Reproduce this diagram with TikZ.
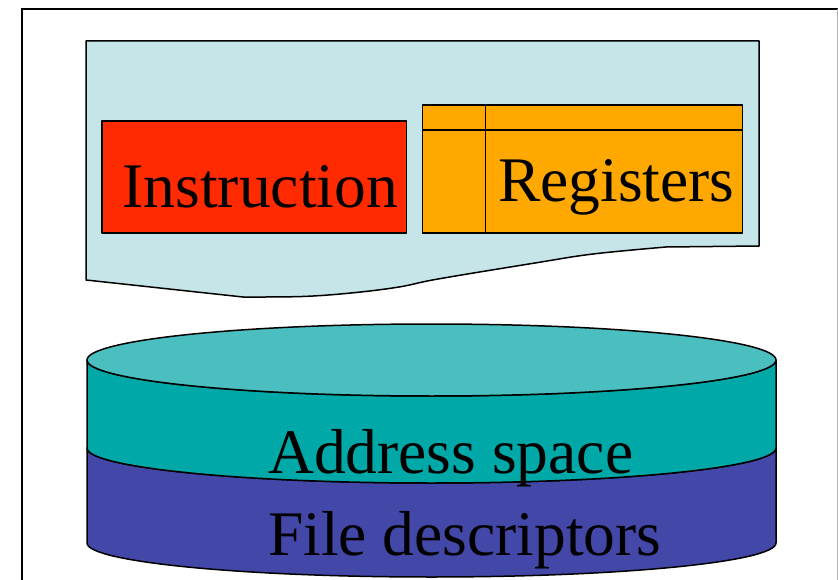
\documentclass[tikz,border=0pt]{standalone}
\usepackage{fontspec}
\setmainfont{Liberation Serif}
\definecolor{pagebg}{HTML}{C5E5E9}
\definecolor{instr}{HTML}{FF2A00}
\definecolor{regs}{HTML}{FFA800}
\definecolor{cyltop}{HTML}{4BBFBF}
\definecolor{cylside}{HTML}{00A8A8}
\definecolor{cylbase}{HTML}{4347A8}
\begin{document}
\begin{tikzpicture}[x=1pt,y=-1pt,
  outline/.style={draw=black,line width=1.5pt,line join=round},
  label/.style={inner sep=0pt,anchor=base west,font=\fontsize{63.5}{70}\selectfont}]
\useasboundingbox (0,0) rectangle (838,580);
\fill[white] (0,0) rectangle (838,580);
% frame
\draw[line width=1.5pt] (22,600) -- (22,9) -- (838,9);
\draw[gray!60,line width=1pt] (837,9) -- (837,600);
% thread context sheet with wavy lower edge
\filldraw[outline,fill=pagebg] (86,41) -- (759,41) -- (759,246)
  -- plot[smooth,tension=0.6] coordinates {(666,247) (593,254) (535,263) (438,279) (399,287) (351,293) (302,296.5) (243,297)}
  -- (86,280) -- cycle;
% instruction box
\filldraw[outline,fill=instr] (102,121) rectangle (406.5,233);
\node[label] (ins) at (122.5,208) {Instruction};
% register box
\filldraw[outline,fill=regs] (422.5,105) rectangle (742.5,233);
\draw[line width=1.3pt] (422.5,130) -- (742.5,130);
\draw[line width=1.3pt] (485.5,105) -- (485.5,233);
\node[label] (reg) at (498,201.5) {Registers};
% process cylinder: base band
\filldraw[outline,fill=cylbase] (87,448) -- (87,543)
  arc[start angle=180,end angle=360,x radius=344.5,y radius=-34]
  -- (776,448)
  arc[start angle=0,end angle=-180,x radius=344.5,y radius=-35] -- cycle;
% middle band
\filldraw[outline,fill=cylside] (87,360) -- (87,448)
  arc[start angle=180,end angle=360,x radius=344.5,y radius=-35]
  -- (776,360)
  arc[start angle=0,end angle=-180,x radius=344.5,y radius=-36] -- cycle;
% top face
\filldraw[outline,fill=cyltop] (431.5,360) ellipse[x radius=344.5,y radius=36];
\node[label] (addr) at (268,473) {Address space};
\node[label] (fd) at (268,555) {File descriptors};
\end{tikzpicture}
\end{document}
